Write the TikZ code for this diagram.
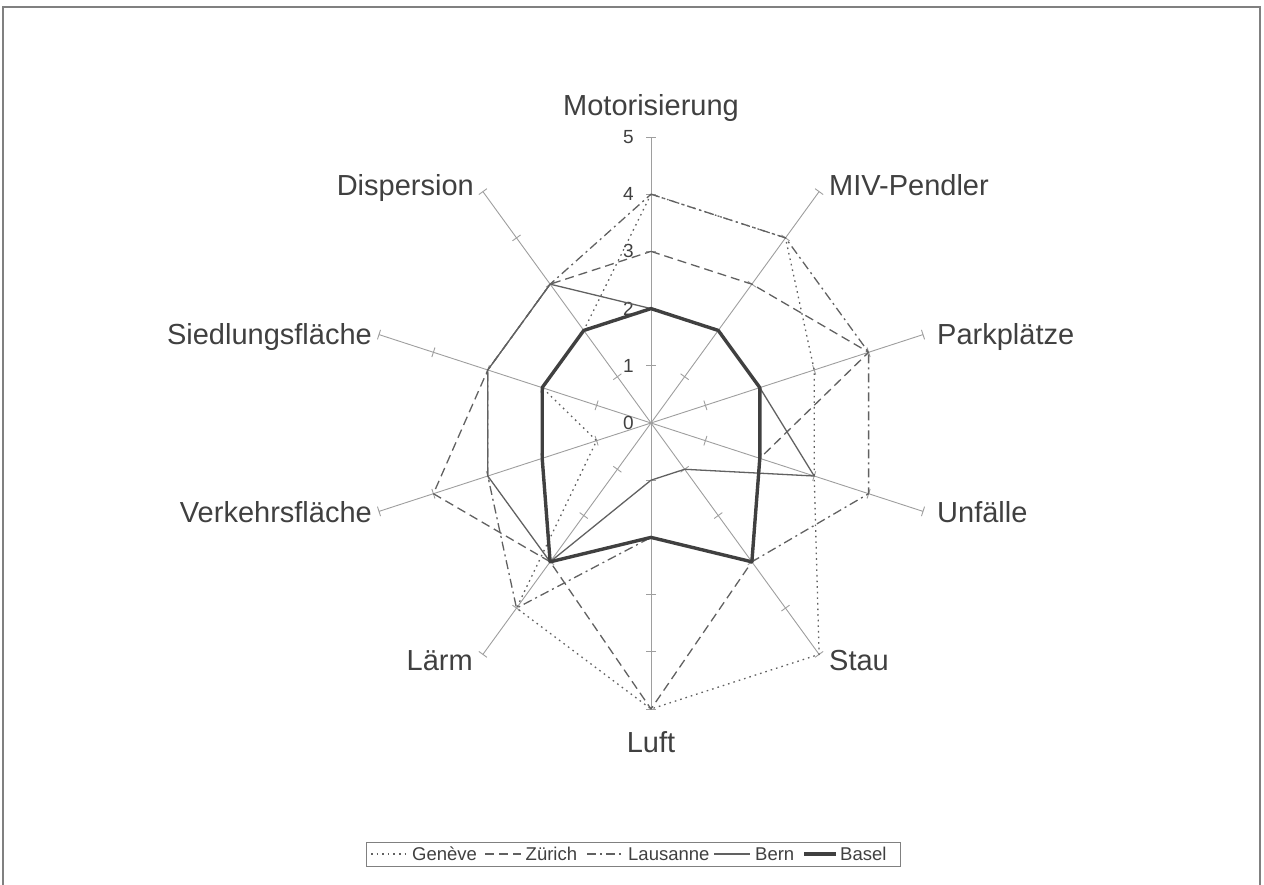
\documentclass[tikz,border=0pt]{standalone}
\usepackage{fontspec}
\setmainfont{Liberation Sans}
\usetikzlibrary{calc}
\begin{document}
\begin{tikzpicture}[x=1pt,y=1pt,
  axisline/.style={draw=black!38, line width=0.9pt},
  series/.style={draw=black!62, line width=1.3pt, line join=round},
  geneve/.style={series, dash pattern=on 1.6pt off 4pt},
  zurich/.style={series, dash pattern=on 9pt off 5pt},
  lausanne/.style={series, dash pattern=on 9pt off 4pt on 2pt off 4pt},
  bern/.style={series},
  basel/.style={series, draw=black!75, line width=3.4pt},
  lab/.style={font=\fontsize{29}{32}\selectfont, text=black!75, inner sep=0pt},
  ticklab/.style={font=\fontsize{19}{21}\selectfont, text=black!75, inner sep=0pt, anchor=east},
  leglab/.style={font=\fontsize{18.5}{22}\selectfont, text=black!75, inner sep=0pt, anchor=base west}
]
\useasboundingbox (0,0) rectangle (1264,884);
% outer frame
\draw[draw=black!50, line width=1.4pt] (3,-2) -- (3,877) -- (1260,877) -- (1260,-2);

\begin{scope}[shift={(651,461)}]
\def\R{57.2}
% axes with ticks
\foreach \i in {0,...,9} {
  \pgfmathsetmacro\ang{90-36*\i}
  \draw[axisline] (0,0) -- ({\ang}:{5*\R});
  \foreach \k in {1,...,5} {
    \draw[axisline] ($({\ang}:{\k*\R})+({\ang+90}:5)$) -- ($({\ang}:{\k*\R})+({\ang-90}:5)$);
  }
}
% tick labels
\foreach \k in {0,...,5} {
  \node[ticklab] (tick\k) at (-17,{\k*\R}) {\k};
}
% data points
\foreach \v [count=\i from 0] in {4,4,3,3,5,5,4,1,2,2} {
  \coordinate (g\i) at ({90-36*\i}:{\v*\R});
}
\foreach \v [count=\i from 0] in {3,3,4,2,3,5,3,4,3,3} {
  \coordinate (z\i) at ({90-36*\i}:{\v*\R});
}
\foreach \v [count=\i from 0] in {4,4,4,4,3,2,4,3,3,3} {
  \coordinate (l\i) at ({90-36*\i}:{\v*\R});
}
\foreach \v [count=\i from 0] in {2,2,2,3,1,1,3,3,3,3} {
  \coordinate (b\i) at ({90-36*\i}:{\v*\R});
}
\foreach \v [count=\i from 0] in {2,2,2,2,3,2,3,2,2,2} {
  \coordinate (s\i) at ({90-36*\i}:{\v*\R});
}
\draw[geneve] (g0) -- (g1) -- (g2) -- (g3) -- (g4) -- (g5) -- (g6) -- (g7) -- (g8) -- (g9) -- cycle;
\draw[zurich] (z0) -- (z1) -- (z2) -- (z3) -- (z4) -- (z5) -- (z6) -- (z7) -- (z8) -- (z9) -- cycle;
\draw[lausanne] (l0) -- (l1) -- (l2) -- (l3) -- (l4) -- (l5) -- (l6) -- (l7) -- (l8) -- (l9) -- cycle;
\draw[bern] (b0) -- (b1) -- (b2) -- (b3) -- (b4) -- (b5) -- (b6) -- (b7) -- (b8) -- (b9) -- cycle;
\draw[basel] (s0) -- (s1) -- (s2) -- (s3) -- (s4) -- (s5) -- (s6) -- (s7) -- (s8) -- (s9) -- cycle;
\end{scope}

% axis labels
\node[lab, anchor=base] (Lmot) at (651,768) {Motorisierung};
\node[lab, anchor=base west] (Lmiv) at (829,688.5) {MIV-Pendler};
\node[lab, anchor=base west] (Lpark) at (937,539.5) {Parkplätze};
\node[lab, anchor=base west] (Lunf) at (937,361.5) {Unfälle};
\node[lab, anchor=base west] (Lstau) at (829,213.5) {Stau};
\node[lab, anchor=base] (Lluft) at (651,131.5) {Luft};
\node[lab, anchor=base east] (Llaerm) at (473,213.5) {Lärm};
\node[lab, anchor=base east] (Lverk) at (372,361.5) {Verkehrsfläche};
\node[lab, anchor=base east] (Lsied) at (372,539.5) {Siedlungsfläche};
\node[lab, anchor=base east] (Ldisp) at (474,688.5) {Dispersion};

% legend
\draw[draw=black!50, line width=1pt] (366,18) rectangle (900,42);
\draw[geneve] (371,30) -- (407,30);
\node[leglab] (legG) at (412,23.5) {Genève};
\draw[zurich] (485,30) -- (521,30);
\node[leglab] (legZ) at (525.5,23.5) {Zürich};
\draw[lausanne] (587,30) -- (624,30);
\node[leglab] (legL) at (628,23.5) {Lausanne};
\draw[bern] (714,30) -- (750,30);
\node[leglab] (legB) at (755,23.5) {Bern};
\draw[basel] (804,30) -- (836,30);
\node[leglab] (legS) at (840,23.5) {Basel};
\end{tikzpicture}
\end{document}
